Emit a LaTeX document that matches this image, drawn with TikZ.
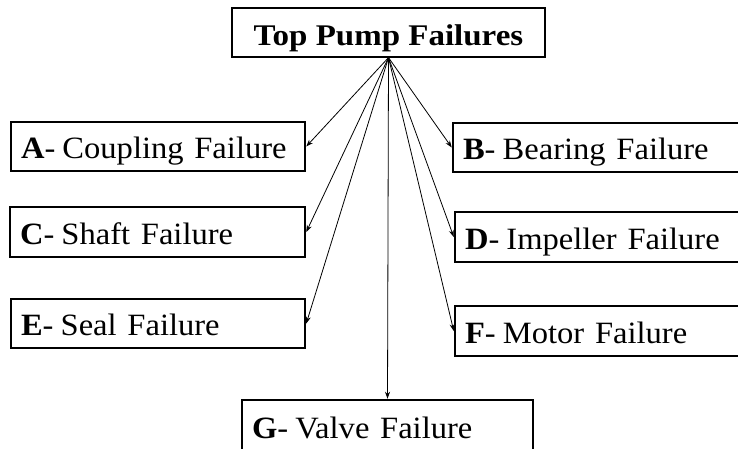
\documentclass[tikz,border=0pt]{standalone}
\usepackage{fontspec}
\setmainfont{Liberation Serif}
\usetikzlibrary{arrows.meta}
\newcommand{\lbl}[2]{\scalebox{1.05}[1]{\fontsize{31}{36}\selectfont\textbf{#1}-\hspace{0.22em}{\spaceskip=0.33em #2}}}
\begin{document}
\begin{tikzpicture}[x=1pt,y=-1pt,
  lbox/.style={draw, line width=2.5pt, minimum height=49pt, inner xsep=10pt, inner ysep=0pt, text width=#1, align=left, text height=27pt, text depth=3pt},
  topbox/.style={draw, line width=1.2pt, minimum width=313pt, minimum height=49pt, inner sep=0pt, text height=28pt, text depth=3pt},
  conn/.style={line width=0.8pt, -{Stealth[length=7pt,width=5pt]}}]
\clip (0,0) rectangle (738,448);
\fill[white] (0,0) rectangle (738,448);
\node[topbox] (T) at (388.5,32.5) {\scalebox{1.1}[1]{\fontsize{30}{36}\selectfont\bfseries Top Pump Failures}};
\node[lbox=274pt] (A) at (158,146.5) {\lbl{A}{Coupling Failure}};
\node[lbox=275pt, minimum height=50pt] (C) at (157.5,232) {\lbl{C}{Shaft Failure}};
\node[lbox=274pt] (E) at (158,323.5) {\lbl{E}{Seal Failure}};
\node[lbox=272pt] (B) at (599,147.5) {\lbl{B}{Bearing Failure}};
\node[lbox=270pt, minimum height=50pt] (D) at (600,237) {\lbl{D}{Impeller Failure}};
\node[lbox=270pt, minimum height=50pt] (F) at (600,331) {\lbl{F}{Motor Failure}};
\node[lbox=271pt, minimum height=52pt] (G) at (387.5,426) {\lbl{G}{Valve Failure}};
\draw[conn] (T.south) -- (A.east);
\draw[conn] (T.south) -- (C.east);
\draw[conn] (T.south) -- (E.east);
\draw[conn] (T.south) -- (B.west);
\draw[conn] (T.south) -- (D.west);
\draw[conn] (T.south) -- (F.west);
\draw[conn] (T.south) -- (G.north);
\end{tikzpicture}
\end{document}
